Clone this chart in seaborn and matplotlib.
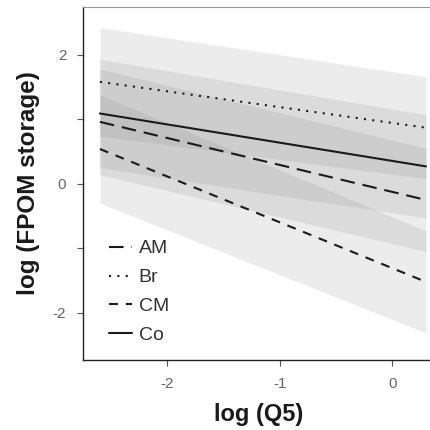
import numpy as np
import pandas as pd
import matplotlib
matplotlib.use("Agg")
import matplotlib.pyplot as plt
import seaborn as sns

sns.set_theme(style="white")
plt.rcParams["font.family"] = ["Liberation Sans", "DejaVu Sans"]
plt.rcParams["axes.unicode_minus"] = False

# log(Q5) range covered by the fitted lines
log_q5 = [-2.6, 0.3]

sites = ["AM", "Br", "CM", "Co"]

# fitted log(FPOM storage) per site at both ends of the range
fit_am = [0.96, -0.25]
fit_br = [1.58, 0.87]
fit_cm = [0.54, -1.52]
fit_co = [1.09, 0.27]

# lower / upper confidence limits per site
lo_am = [0.14, -1.05]
hi_am = [1.78, 0.55]
lo_br = [0.74, 0.08]
hi_br = [2.42, 1.66]
lo_cm = [-0.30, -2.31]
hi_cm = [1.38, -0.73]
lo_co = [0.25, -0.53]
hi_co = [1.93, 1.07]

fits = {"AM": fit_am, "Br": fit_br, "CM": fit_cm, "Co": fit_co}
lows = {"AM": lo_am, "Br": lo_br, "CM": lo_cm, "Co": lo_co}
highs = {"AM": hi_am, "Br": hi_br, "CM": hi_cm, "Co": hi_co}

df = pd.DataFrame({
    "log_q5": np.tile(log_q5, len(sites)),
    "fit": np.concatenate([fits[s] for s in sites]),
    "site": np.repeat(sites, len(log_q5)),
})

fig = plt.figure(figsize=(4.3, 4.3), dpi=100)
ax = fig.add_axes([83 / 430, 70 / 430, 352 / 430, 353 / 430])

# translucent confidence bands
for s in sites:
    ax.fill_between(log_q5, lows[s], highs[s], color="#808080", alpha=0.15,
                    linewidth=0, zorder=1)

dashes = {"AM": (7, 3.8), "Br": (1, 3), "CM": (4.3, 3.8), "Co": ""}
sns.lineplot(data=df, x="log_q5", y="fit", style="site", dashes=dashes,
             color="#1a1a1a", linewidth=1.5, ax=ax, legend=True, zorder=3)

ax.set_xlim(-2.75, 0.38)
ax.set_ylim(-2.73, 2.74)
ax.set_xticks([-2, -1, 0])
ax.set_yticks([-2, -1, 0, 1, 2])
ax.set_yticklabels(["-2", "", "0", "", "2"], rotation=0)
ax.tick_params(axis="both", direction="out", length=4, width=0.8,
               colors="#555555", labelsize=11, labelcolor="#666666",
               left=True, bottom=True)
ax.tick_params(axis="x", pad=8)
ax.tick_params(axis="y", pad=8)

ax.set_xlabel("log (Q5)", fontsize=17, fontweight="bold", color="#1a1a1a",
              labelpad=9)
ax.set_ylabel("log (FPOM storage)", fontsize=17.5, fontweight="bold",
              color="#1a1a1a", labelpad=9)

for side in ["left", "bottom"]:
    ax.spines[side].set_color("#222222")
    ax.spines[side].set_linewidth(1.0)
ax.spines["top"].set_color("#999999")
ax.spines["top"].set_linewidth(0.8)
ax.spines["right"].set_visible(False)

leg = ax.legend(title=None, loc="lower left", frameon=False, fontsize=14,
                handlelength=1.15, handletextpad=0.35, labelspacing=0.58,
                borderaxespad=0.0, borderpad=0.0,
                bbox_to_anchor=(0.075, 0.045))
for t in leg.get_texts():
    t.set_color("#333333")

fig.savefig("out.png", dpi=100)
